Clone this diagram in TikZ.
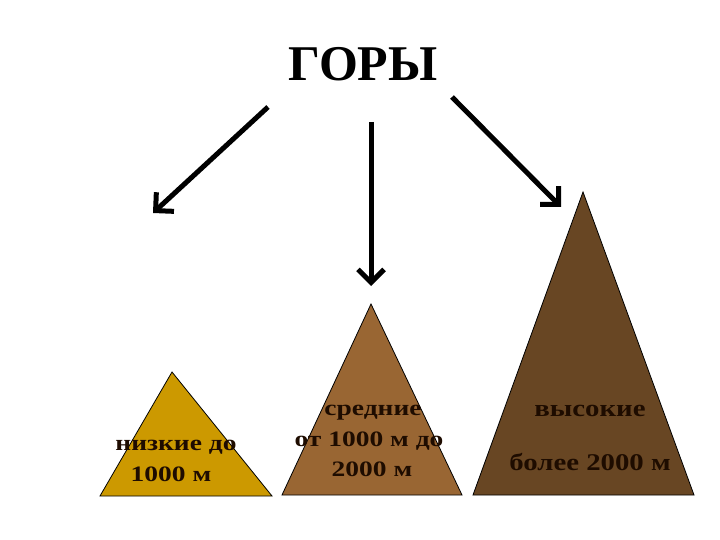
\documentclass[tikz,border=0pt]{standalone}
\usepackage{fontspec}
\setmainfont{Liberation Serif}
\usetikzlibrary{arrows.meta}
\definecolor{lowc}{RGB}{204,153,0}
\definecolor{midc}{RGB}{153,102,51}
\definecolor{highc}{RGB}{104,70,35}
\definecolor{txt}{RGB}{30,12,0}
\tikzset{
  mount/.style={draw=black, line width=0.8pt},
  lbl/.style={text=txt, font=\bfseries\fontsize{22}{24}\selectfont, inner sep=0pt, xscale=1.25},
  hlbl/.style={text=txt, font=\bfseries\fontsize{24}{26}\selectfont, inner sep=0pt, xscale=1.2},
  arr/.style={line width=5pt, -{Straight Barb[length=13pt,width=26pt,line width=5pt]}}
}
\begin{document}
\begin{tikzpicture}[x=1pt,y=-1pt]
\useasboundingbox (0,0) rectangle (720,540);
\fill[white] (0,0) rectangle (720,540);
\node[inner sep=0pt, font=\bfseries\fontsize{50}{60}\selectfont] (title) at (363,64) {ГОРЫ};
% mountains
\draw[mount, fill=lowc] (172,372) coordinate (lowtop) -- (272,496) -- (100,496) -- cycle;
\draw[mount, fill=midc] (371,304) coordinate (midtop) -- (462,495) -- (282,495) -- cycle;
\draw[mount, fill=highc] (583,192) coordinate (hightop) -- (694,495) -- (473,495) -- cycle;
% labels
\node[lbl] (l1) at (176,447) {низкие до};
\node[lbl] (l2) at (171,474) {1000 м};
\node[lbl] (m1) at (373,413) {средние};
\node[lbl] (m2) at (369,441) {от 1000 м до};
\node[lbl] (m3) at (372,469) {2000 м};
\node[hlbl] (h1) at (590,411) {высокие};
\node[hlbl] (h2) at (590,462) {более 2000 м};
% arrows
\coordinate (aLs) at (268,107);
\coordinate (aLe) at (153,213);
\coordinate (aMs) at (371,122);
\coordinate (aMe) at (371,286);
\coordinate (aRs) at (452,97);
\coordinate (aRe) at (561,207);
\draw[arr] (aLs) -- (aLe);
\draw[arr] (aMs) -- (aMe);
\draw[arr] (aRs) -- (aRe);
\end{tikzpicture}
\end{document}
